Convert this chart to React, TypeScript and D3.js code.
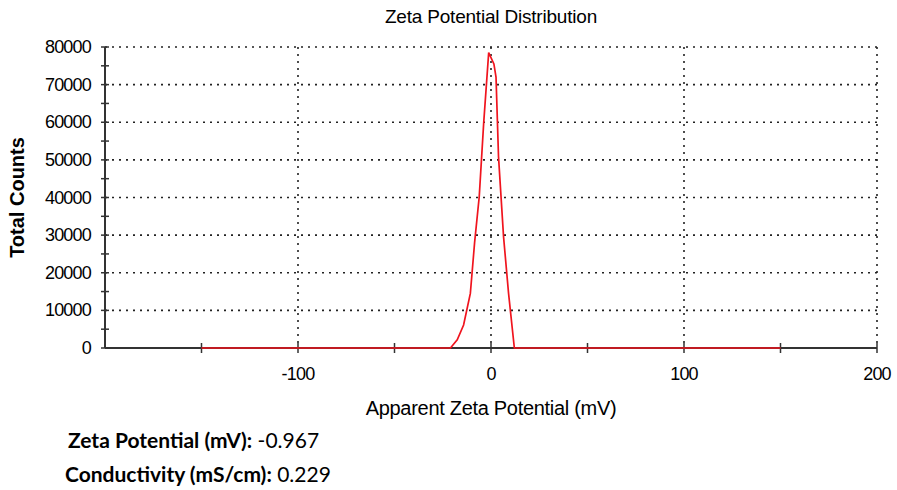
import React, { useEffect, useRef } from "react";
import * as d3 from "d3";

// Zeta potential distribution
const zetaMv = [-150, -21, -17.5, -14.2, -10.7, -8.5, -6.1, -3.8, -1.2, 1.5, 2.6, 3.9, 6.5, 9.1, 12.1, 150];
const totalCounts = [0, 0, 2200, 6100, 14500, 28000, 40200, 59700, 78500, 75500, 72000, 50800, 29600, 14500, 0, 0];

const xTickLabels = [-100, 0, 100, 200];
const xTickMarks = [-150, -100, -50, 0, 50, 100, 150, 200];
const yTickLabels = [0, 10000, 20000, 30000, 40000, 50000, 60000, 70000, 80000];
const yTickMarks = d3.range(0, 80001, 5000);
const xGridValues = [-100, 0, 100, 200];
const yGridValues = [10000, 20000, 30000, 40000, 50000, 60000, 70000, 80000];

const resultLines = [
  { label: "Zeta Potential (mV):", value: " -0.967" },
  { label: "Conductivity (mS/cm):", value: " 0.229" },
];

const W = 897;
const H = 490;

const App = () => {
  const svgRef = useRef<SVGSVGElement>(null);

  useEffect(() => {
    const svg = d3.select(svgRef.current);
    svg.selectAll("*").remove();

    const margin = { top: 47, right: 20, bottom: 142, left: 105 };
    const x = d3.scaleLinear().domain([-200, 200]).range([margin.left, W - margin.right]);
    const y = d3.scaleLinear().domain([0, 80000]).range([H - margin.bottom, margin.top]);
    const font = "Arial, 'Liberation Sans', sans-serif";

    // title
    svg
      .append("text")
      .attr("x", x(0))
      .attr("y", 23)
      .attr("text-anchor", "middle")
      .attr("font-family", font)
      .attr("font-size", 19)
      .attr("letter-spacing", -0.2)
      .text("Zeta Potential Distribution");

    // dotted grid
    svg
      .append("g")
      .selectAll("line")
      .data(yGridValues)
      .join("line")
      .attr("x1", x(-200))
      .attr("x2", x(200))
      .attr("y1", (d) => y(d))
      .attr("y2", (d) => y(d))
      .attr("stroke", "#222")
      .attr("stroke-width", 1.6)
      .attr("stroke-dasharray", "2,5");

    svg
      .append("g")
      .selectAll("line")
      .data(xGridValues)
      .join("line")
      .attr("x1", (d) => x(d))
      .attr("x2", (d) => x(d))
      .attr("y1", y(80000))
      .attr("y2", y(0))
      .attr("stroke", "#222")
      .attr("stroke-width", 1.6)
      .attr("stroke-dasharray", "2,5");

    // axes lines
    svg
      .append("line")
      .attr("x1", x(-200))
      .attr("x2", x(-200))
      .attr("y1", y(80000))
      .attr("y2", y(0))
      .attr("stroke", "#333")
      .attr("stroke-width", 2);

    svg
      .append("line")
      .attr("x1", x(-200))
      .attr("x2", x(200))
      .attr("y1", y(0))
      .attr("y2", y(0))
      .attr("stroke", "#333")
      .attr("stroke-width", 2);

    // tick marks crossing the axes
    svg
      .append("g")
      .selectAll("line")
      .data(yTickMarks)
      .join("line")
      .attr("x1", x(-200) - 4)
      .attr("x2", x(-200) + 4)
      .attr("y1", (d) => y(d))
      .attr("y2", (d) => y(d))
      .attr("stroke", "#333")
      .attr("stroke-width", 1.5);

    svg
      .append("g")
      .selectAll("line")
      .data(xTickMarks)
      .join("line")
      .attr("x1", (d) => x(d))
      .attr("x2", (d) => x(d))
      .attr("y1", y(0) - 5)
      .attr("y2", y(0) + 5)
      .attr("stroke", "#333")
      .attr("stroke-width", 1.5);

    // tick labels
    svg
      .append("g")
      .selectAll("text")
      .data(yTickLabels)
      .join("text")
      .attr("x", x(-200) - 14)
      .attr("y", (d) => y(d) + 6)
      .attr("text-anchor", "end")
      .attr("font-family", font)
      .attr("font-size", 18)
      .attr("letter-spacing", -0.8)
      .text((d) => d);

    svg
      .append("g")
      .selectAll("text")
      .data(xTickLabels)
      .join("text")
      .attr("x", (d) => x(d))
      .attr("y", y(0) + 32)
      .attr("text-anchor", "middle")
      .attr("font-family", font)
      .attr("font-size", 18)
      .attr("letter-spacing", -0.8)
      .text((d) => d);

    // axis titles
    svg
      .append("text")
      .attr("x", x(0))
      .attr("y", 415)
      .attr("text-anchor", "middle")
      .attr("font-family", font)
      .attr("font-size", 20)
      .attr("letter-spacing", -0.3)
      .text("Apparent Zeta Potential (mV)");

    svg
      .append("text")
      .attr("transform", `translate(24, ${y(40000)}) rotate(-90)`)
      .attr("text-anchor", "middle")
      .attr("font-family", font)
      .attr("font-size", 20)
      .attr("font-weight", "bold")
      .text("Total Counts");

    // distribution curve
    const line = d3
      .line<number>()
      .x((d, i) => x(zetaMv[i]))
      .y((d) => y(d));

    svg
      .append("path")
      .datum(totalCounts)
      .attr("fill", "none")
      .attr("stroke", "#f0141e")
      .attr("stroke-width", 1.7)
      .attr("d", line);

    // measurement summary
    const summary = svg
      .append("g")
      .selectAll("text")
      .data(resultLines)
      .join("text")
      .attr("x", (d, i) => (i === 0 ? 68 : 65))
      .attr("y", (d, i) => 448 + i * 34)
      .attr("font-family", "Lato, sans-serif")
      .attr("font-size", 21);

    summary.append("tspan").attr("font-weight", "bold").text((d) => d.label);
    summary.append("tspan").text((d) => d.value);
  }, []);

  return (
    <svg
      ref={svgRef}
      width={W}
      height={H}
      style={{ position: "absolute", left: 0, top: 0, background: "#fff" }}
    />
  );
};

export default App;
